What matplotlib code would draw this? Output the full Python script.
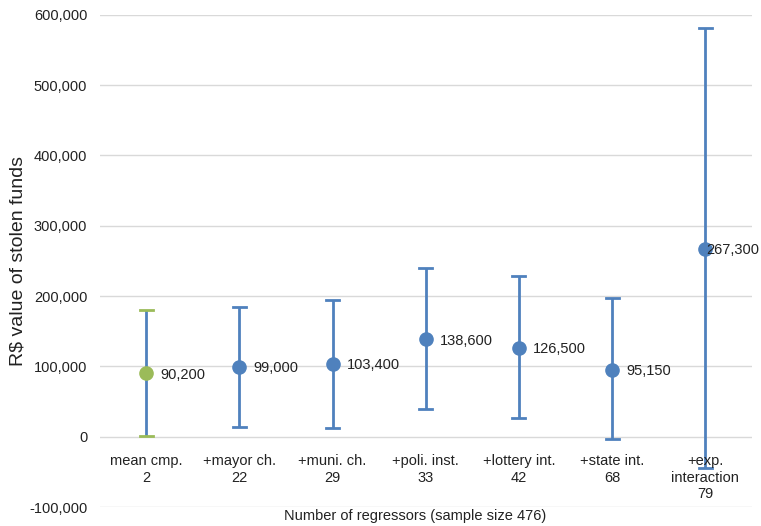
import matplotlib.pyplot as plt
from matplotlib.ticker import FuncFormatter

plt.rcParams['font.family'] = ['Liberation Sans', 'DejaVu Sans']

# Data
categories = ["mean cmp.\n2", "+mayor ch.\n22", "+muni. ch.\n29", "+poli. inst.\n33",
              "+lottery int.\n42", "+state int.\n68", "+exp.\ninteraction\n79"]
estimates = [90200, 99000, 103400, 138600, 126500, 95150, 267300]
labels = ["90,200", "99,000", "103,400", "138,600", "126,500", "95,150", "267,300"]
upper = [179500, 184500, 194500, 240000, 228500, 197000, 581000]
lower = [500, 14500, 13000, 39000, 27000, -3500, -44500]

blue = "#4F81BD"
green = "#9BBB59"
point_colors = [green] + [blue] * 6

fig = plt.figure(figsize=(7.61, 5.26), dpi=100)
ax = fig.add_axes([0.131, 0.036, 0.857, 0.936])

x = list(range(len(categories)))
for i in x:
    ax.errorbar(i, estimates[i],
                yerr=[[estimates[i] - lower[i]], [upper[i] - estimates[i]]],
                fmt='none', ecolor=blue, elinewidth=2, capsize=0, zorder=2)
    # caps
    ax.plot([i - 0.07, i + 0.07], [upper[i]] * 2, color=point_colors[i], lw=2, zorder=2)
    ax.plot([i - 0.07, i + 0.07], [lower[i]] * 2, color=point_colors[i], lw=2, zorder=2)
    ax.plot(i, estimates[i], 'o', color=point_colors[i], markersize=9.5, zorder=3)
    off = 1 if i == 6 else 10
    ax.annotate(labels[i], (i, estimates[i]), xytext=(off, -1), textcoords='offset points',
                ha='left', va='center', fontsize=10.5, color='#222222', zorder=4)
    ax.text(i, -25000, categories[i], ha='center', va='top', fontsize=10.5,
            color='#222222', linespacing=1.2)

ax.set_xlim(-0.5, len(categories) - 0.5)
ax.set_ylim(-100000, 600000)
ax.set_yticks(range(-100000, 600001, 100000))
ax.yaxis.set_major_formatter(FuncFormatter(lambda v, p: f"{int(v):,}"))
ax.tick_params(axis='y', length=0, labelsize=10.5, colors='#222222', pad=9)
ax.set_xticks([])
ax.grid(axis='y', color='#d9d9d9', lw=1)
ax.set_axisbelow(True)
for s in ax.spines.values():
    s.set_visible(False)

ax.set_ylabel("R\\$ value of stolen funds", fontsize=14, color='#222222')
ax.yaxis.set_label_coords(-0.112, 0.5)
fig.text(0.545, 0.006, "Number of regressors (sample size 476)", ha='center', va='bottom',
         fontsize=10.5, color='#222222')

fig.savefig("out.png", dpi=100)
